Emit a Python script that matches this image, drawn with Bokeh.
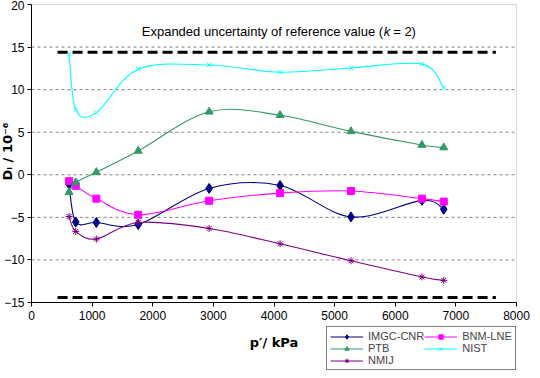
import numpy as np
from bokeh.plotting import figure
from bokeh.models import (Legend, LegendItem, Label, Range1d, FixedTicker,
                          ColumnDataSource, BoxAnnotation)
from bokeh.embed import file_html
from bokeh.resources import INLINE

# ---- data ----
pressure = [620, 730, 1070, 1760, 2930, 4100, 5270, 6440, 6800]
imgc = [-1.1, -5.55, -5.6, -5.85, -1.6, -1.25, -4.95, -3.0, -4.05]
bnm = [-0.75, -1.3, -2.8, -4.7, -3.05, -2.15, -1.9, -2.8, -3.15]
ptb = [-2.05, -0.9, 0.3, 2.8, 7.4, 7.0, 5.1, 3.5, 3.2]
nist = [14.15, 7.65, 7.3, 12.4, 12.9, 12.05, 12.55, 13.0, 10.2]
nmij = [-4.9, -6.65, -7.55, -5.6, -6.3, -8.1, -10.1, -12.0, -12.4]

unc_x = [430, 7660]
unc_upper = [14.4, 14.4]
unc_lower = [-14.4, -14.4]

y_ticks = [-15, -10, -5, 0, 5, 10, 15, 20]
x_ticks = [0, 1000, 2000, 3000, 4000, 5000, 6000, 7000, 8000]

FONT = "Liberation Sans"
BOLD_FONT = "DejaVu Sans"

# ---- layout (pixels inside the figure) ----
FIG_W, FIG_H = 532, 370
PX_LEFT, PX_RIGHT = 31, 516      # where x_ticks[0] / x_ticks[-1] fall
PX_TOP, PX_BOTTOM = 4, 302       # where y_ticks[-1] / y_ticks[0] fall

xmin, xmax = x_ticks[0], x_ticks[-1]
ymin, ymax = y_ticks[0], y_ticks[-1]
ux = (xmax - xmin) / (PX_RIGHT - PX_LEFT)
uy = (ymax - ymin) / (PX_BOTTOM - PX_TOP)
x_range = Range1d(xmin - PX_LEFT * ux, xmax + (FIG_W - PX_RIGHT) * ux)
y_range = Range1d(ymin - (FIG_H - PX_BOTTOM) * uy, ymax + PX_TOP * uy)

p = figure(width=FIG_W, height=FIG_H, output_backend="svg", toolbar_location=None,
           x_range=x_range, y_range=y_range, min_border=0)
p.title.visible = False
p.outline_line_color = None
p.background_fill_color = "white"
p.border_fill_color = "white"
p.xgrid.visible = False
p.ygrid.visible = False

# plot-area border (gray) and dashed gridlines from the tick arrays
p.add_layout(BoxAnnotation(left=xmin, right=xmax, bottom=ymin, top=ymax,
                           fill_alpha=0, line_color="#808080", line_width=1,
                           level="underlay"))
inner = y_ticks[1:-1]
p.segment(x0=[xmin] * len(inner), x1=[xmax] * len(inner), y0=inner, y1=inner,
          line_color="#808080", line_dash="3 3", line_width=1, level="underlay")

for ax in (p.xaxis[0], p.yaxis[0]):
    ax.axis_line_color = "black"
    ax.major_tick_line_color = "black"
    ax.minor_tick_line_color = None
    ax.major_tick_out = 4
    ax.major_tick_in = 0
    ax.major_label_text_font = FONT
    ax.major_label_text_font_size = "12px"
    ax.major_label_text_color = "black"

p.xaxis.ticker = FixedTicker(ticks=x_ticks)
p.yaxis.ticker = FixedTicker(ticks=y_ticks)
p.xaxis.fixed_location = ymin
p.yaxis.fixed_location = xmin
p.xaxis.bounds = (xmin, xmax)
p.yaxis.bounds = (ymin, ymax)
p.xaxis.major_label_standoff = 4
p.yaxis.major_label_standoff = 3

p.xaxis.axis_label = "p\u2032/ kPa"
p.xaxis.axis_label_standoff = 12
p.xaxis.axis_label_text_font = BOLD_FONT
p.xaxis.axis_label_text_font_style = "bold"
p.xaxis.axis_label_text_font_size = "13px"
p.xaxis.axis_label_text_color = "black"

# y-axis title (placed where the reference shows it)
p.add_layout(Label(x=7, y=219, x_units="screen", y_units="screen",
                   text="D\u1d62 / 10\u207b\u2076", angle=np.pi / 2,
                   text_font=BOLD_FONT, text_font_style="bold", text_font_size="13px",
                   text_color="black", text_align="center", text_baseline="middle"))


def smooth_segments(xs, ys, t=1.0 / 6.0):
    xs = np.asarray(xs, float)
    ys = np.asarray(ys, float)
    n = len(xs)
    out = {k: [] for k in ("x0", "y0", "x1", "y1", "cx0", "cy0", "cx1", "cy1")}
    for i in range(n - 1):
        im = max(i - 1, 0)
        ip2 = min(i + 2, n - 1)
        out["x0"].append(xs[i]); out["y0"].append(ys[i])
        out["x1"].append(xs[i + 1]); out["y1"].append(ys[i + 1])
        out["cx0"].append(xs[i] + (xs[i + 1] - xs[im]) * t)
        out["cy0"].append(ys[i] + (ys[i + 1] - ys[im]) * t)
        out["cx1"].append(xs[i + 1] - (xs[ip2] - xs[i]) * t)
        out["cy1"].append(ys[i + 1] - (ys[ip2] - ys[i]) * t)
    return out


series = [
    ("IMGC-CNR", imgc, "#000080", "diamond", 10),
    ("BNM-LNE", bnm, "#FF00FF", "square", 7),
    ("PTB", ptb, "#339966", "triangle", 8),
    ("NIST", nist, "#00FFFF", "x", 6),
    ("NMIJ", nmij, "#800080", "asterisk", 7),
]

legend_items = []
for name, ys, color, marker, size in series:
    src = ColumnDataSource(smooth_segments(pressure, ys))
    b = p.bezier(x0="x0", y0="y0", x1="x1", y1="y1", cx0="cx0", cy0="cy0",
                 cx1="cx1", cy1="cy1", source=src, line_color=color, line_width=1.1)
    s = p.scatter(pressure, ys, marker=marker, size=size, fill_color=color,
                  line_color=color, line_width=1)
    legend_items.append(LegendItem(label=name, renderers=[b, s]))

p.line(unc_x, unc_upper, line_color="black", line_width=3, line_dash="10 5")
p.line(unc_x, unc_lower, line_color="black", line_width=3, line_dash="10 5")

# title inside the plot area, with italic k
TY = 16.85
p.add_layout(Label(x=5800, y=TY, text="Expanded uncertainty of reference value (",
                   text_font=FONT, text_font_size="13px", text_color="black",
                   text_align="right", text_baseline="middle"))
p.add_layout(Label(x=5810, y=TY, text="k", text_font=FONT, text_font_style="italic",
                   text_font_size="13px", text_color="black",
                   text_align="left", text_baseline="middle"))
p.add_layout(Label(x=5966, y=TY, text="= 2)", text_font=FONT, text_font_size="13px",
                   text_color="black", text_align="left", text_baseline="middle"))

legend = Legend(items=legend_items, orientation="horizontal", ncols=2,
                location=(326, 0),
                label_text_font=FONT, label_text_font_size="11px",
                label_text_line_height=1.0,
                label_height=11, glyph_height=11, glyph_width=33,
                label_standoff=5, spacing=0, padding=3, margin=0,
                border_line_color="black", border_line_width=1,
                background_fill_color="white", background_fill_alpha=1)
p.add_layout(legend, "center")

open("out.html", "w").write(file_html(p, INLINE))
